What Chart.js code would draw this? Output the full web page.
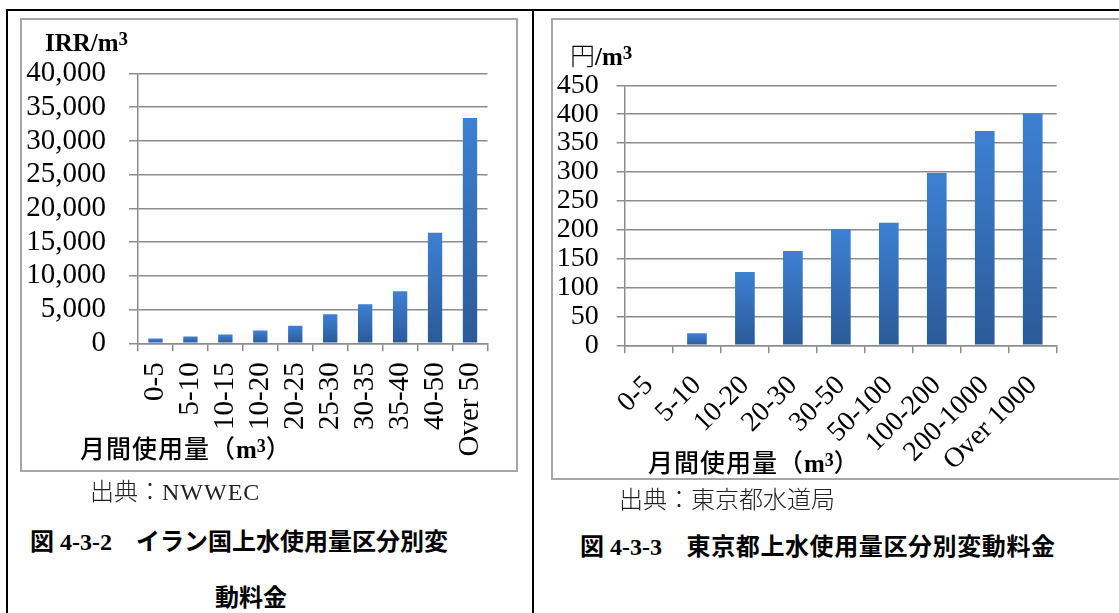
<!DOCTYPE html>
<html>
<head>
<meta charset="utf-8">
<script src="https://cdn.jsdelivr.net/npm/chart.js@4/dist/chart.umd.min.js"></script>
<style>
  html, body { margin:0; padding:0; background:#fff; }
  body { width:1119px; height:613px; position:relative; overflow:hidden; }
  .abs { position:absolute; }
  .bl { background:#000; }
  .box { box-sizing:border-box; border:2px solid #a6a6a6; }
  .t { position:absolute; white-space:nowrap; line-height:1; transform:translateY(-50%); color:#000; }
  .serifb { font-family:"Liberation Serif", serif; font-weight:700; }
  .jp { font-family:"Noto Sans CJK JP", sans-serif; }
  canvas { position:absolute; }
</style>
</head>
<body>
<!-- table lines -->
<div class="abs bl" style="left:6px;top:9px;width:1113px;height:2px"></div>
<div class="abs bl" style="left:6px;top:9px;width:2px;height:604px"></div>
<div class="abs bl" style="left:532px;top:9px;width:2px;height:604px"></div>

<!-- chart frames -->
<div class="abs box" style="left:20px;top:18px;width:498px;height:454px"></div>
<div class="abs box" style="left:551px;top:18px;width:620px;height:462px"></div>

<canvas id="c1" width="494" height="450" style="left:22px;top:20px"></canvas>
<canvas id="c2" width="566" height="458" style="left:553px;top:20px"></canvas>

<!-- unit labels -->
<div class="t serifb" style="left:45px;top:42px;font-size:25px">IRR/m<span style="font-size:19px;vertical-align:6px">3</span></div>
<div class="t" style="left:570px;top:55px;font-size:25px"><span class="jp" style="font-weight:300">円</span><span class="serifb">/m<span style="font-size:19px;vertical-align:6px">3</span></span></div>

<!-- x axis titles -->
<div class="t" style="left:80px;top:448px;font-size:25px"><span class="jp" style="font-weight:500;letter-spacing:1px">月間使用量（</span><span class="serifb">m<span style="font-size:18px;vertical-align:6px">3</span></span><span class="jp" style="font-weight:500">）</span></div>
<div class="t" style="left:648px;top:462px;font-size:25px"><span class="jp" style="font-weight:500;letter-spacing:1px">月間使用量（</span><span class="serifb">m<span style="font-size:18px;vertical-align:6px">3</span></span><span class="jp" style="font-weight:500">）</span></div>

<!-- sources -->
<div class="t" style="left:90px;top:491px;font-size:24px;color:#222"><span class="jp" style="font-weight:300">出典：</span><span style="font-family:'Liberation Serif',serif;letter-spacing:1px">NWWEC</span></div>
<div class="t jp" style="left:619px;top:498px;font-size:24px;color:#222;font-weight:300">出典：東京都水道局</div>

<!-- captions -->
<div class="t" style="left:30px;top:541px;font-size:24px"><span class="jp" style="font-weight:700">図</span><span class="serifb">&nbsp;4-3-2</span><span class="jp" style="font-weight:700">　イラン国上水使用量区分別変</span></div>
<div class="t jp" style="left:215px;top:596px;font-size:24px;font-weight:700">動料金</div>
<div class="t" style="left:580px;top:546px;font-size:24px"><span class="jp" style="font-weight:700">図</span><span class="serifb">&nbsp;4-3-3</span><span class="jp" style="font-weight:700;letter-spacing:0.6px">　東京都上水使用量区分別変動料金</span></div>

<script>
// ---- data ----
const irrCategories = ['0-5','5-10','10-15','10-20','20-25','25-30','30-35','35-40','40-50','Over 50'];
const irrValues = [700, 1000, 1300, 1900, 2600, 4300, 5800, 7700, 16400, 33400];
const irrTickMax = 40000;
const irrTickStep = 5000;

const tokyoCategories = ['0-5','5-10','10-20','20-30','30-50','50-100','100-200','200-1000','Over 1000'];
const tokyoValues = [0, 21, 127, 163, 201, 212, 298, 371, 401];
const tokyoTickMax = 450;
const tokyoTickStep = 50;

// ---- styling helpers ----
const GRID = '#8c8c8c';

function barGradient(ctx) {
  const chart = ctx.chart;
  if (!chart.chartArea) return '#3570bd';
  const ys = chart.scales.y;
  const v = ctx.raw || 0;
  const top = ys.getPixelForValue(v);
  const base = ys.getPixelForValue(0);
  if (base - top < 1) return '#3570bd';
  const g = chart.ctx.createLinearGradient(0, top, 0, base);
  g.addColorStop(0, '#3d80d3');
  g.addColorStop(1, '#2b5a97');
  return g;
}

function makeChart(id, labels, values, max, step, cfg) {
  const font = { family: "'Liberation Serif', serif", size: cfg.fontSize };
  return new Chart(document.getElementById(id), {
    type: 'bar',
    data: {
      labels: labels,
      datasets: [{
        data: values,
        backgroundColor: barGradient,
        borderWidth: 0,
        categoryPercentage: 1.0,
        barPercentage: 0.41
      }]
    },
    options: {
      responsive: false,
      animation: false,
      devicePixelRatio: 1,
      layout: { padding: { top: cfg.padTop, right: cfg.padRight, left: 0, bottom: 0 } },
      plugins: { legend: { display: false }, tooltip: { enabled: false }, title: { display: false } },
      scales: {
        x: {
          grid: { display: true, drawOnChartArea: false, drawTicks: true, tickLength: 8, color: GRID, lineWidth: 1.5, offset: true },
          border: { display: true, color: GRID, width: 1.5 },
          ticks: {
            color: '#000', font: font, autoSkip: false,
            maxRotation: cfg.rot, minRotation: cfg.rot, padding: cfg.xPad
          },
          afterFit: s => { s.height = cfg.xHeight; }
        },
        y: {
          min: 0, max: max,
          grid: { color: GRID, lineWidth: 1.5, tickLength: cfg.yTick, drawTicks: true },
          border: { display: true, color: GRID, width: 1.5 },
          ticks: {
            stepSize: step, autoSkip: false, color: '#000', font: font, padding: cfg.yPad,
            callback: v => Number(v).toLocaleString('en-US')
          },
          afterFit: s => { s.width = cfg.yWidth; }
        }
      }
    }
  });
}

makeChart('c1', irrCategories, irrValues, irrTickMax, irrTickStep,
  { padTop: 53.5, padRight: 4, xHeight: 126.7, yWidth: 116, rot: 90, xPad: 11, yTick: 9, yPad: 23, fontSize: 29 });
makeChart('c2', tokyoCategories, tokyoValues, tokyoTickMax, tokyoTickStep,
  { padTop: 65.3, padRight: 62.3, xHeight: 132.7, yWidth: 72, rot: 45, xPad: 16, yTick: 8.3, yPad: 18, fontSize: 28 });
</script>
</body>
</html>
